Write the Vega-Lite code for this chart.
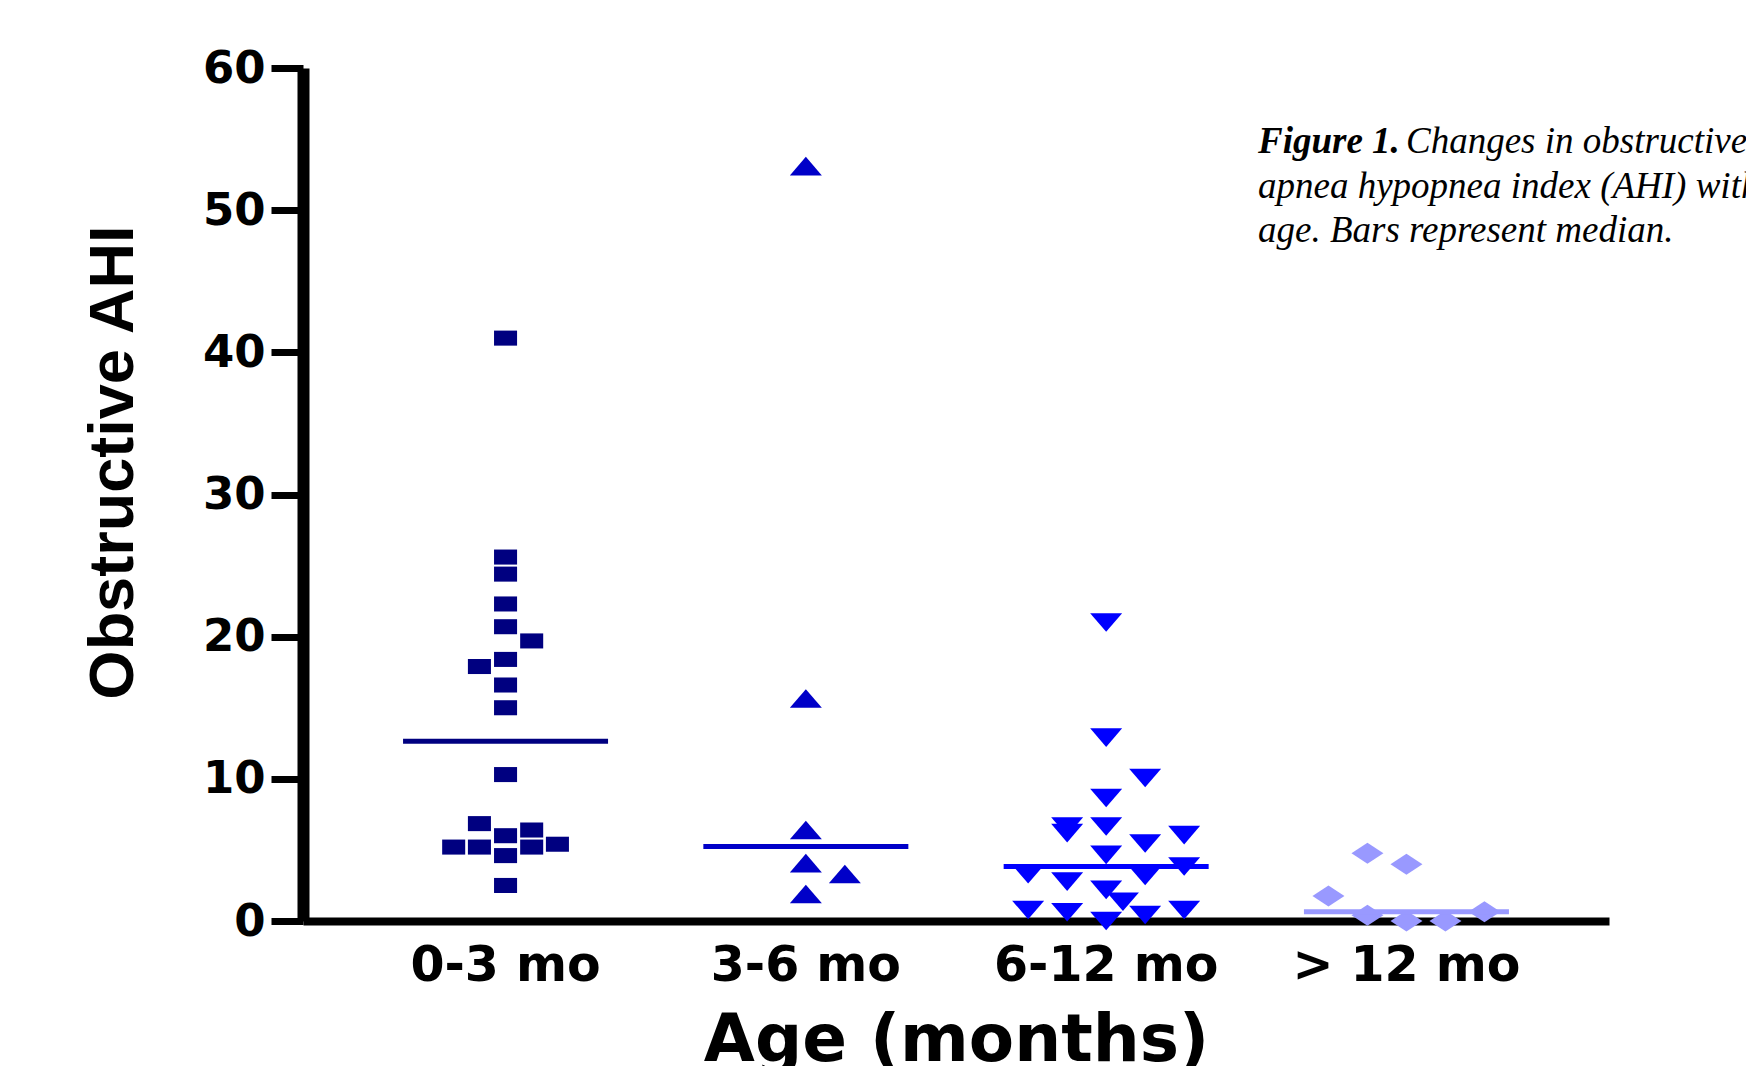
{
  "$schema": "https://vega.github.io/schema/vega-lite/v6.json",
  "width": 1306,
  "height": 853,
  "autosize": {"type": "none"},
  "padding": {"left": 303, "top": 68, "right": 137, "bottom": 145},
  "background": "white",
  "config": {"view": {"stroke": null}},
  "title": {
    "text": "Figure 1.",
    "subtitle": ["\u200d\u00a0\u00a0\u00a0\u00a0\u00a0\u00a0\u00a0\u00a0\u00a0\u00a0\u00a0\u00a0\u00a0\u00a0\u00a0\u00a0Changes in obstructive", "apnea hypopnea index (AHI) with", "age. Bars represent median."],
    "anchor": "start",
    "frame": "group",
    "orient": "top",
    "dx": 955,
    "dy": 208,
    "font": "Liberation Serif",
    "fontSize": 37,
    "fontStyle": "italic",
    "fontWeight": "bold",
    "color": "black",
    "subtitleFont": "Liberation Serif",
    "subtitleFontSize": 37,
    "subtitleFontStyle": "italic",
    "subtitleFontWeight": "normal",
    "subtitleColor": "black",
    "subtitleLineHeight": 44.5,
    "subtitlePadding": -37
  },
  "data": {
    "values": [
      {"group": "0-3 mo", "ahi": 41.0, "dx": 0},
      {"group": "0-3 mo", "ahi": 25.6, "dx": 0},
      {"group": "0-3 mo", "ahi": 24.4, "dx": 0},
      {"group": "0-3 mo", "ahi": 22.3, "dx": 0},
      {"group": "0-3 mo", "ahi": 20.7, "dx": 0},
      {"group": "0-3 mo", "ahi": 19.7, "dx": 0.67},
      {"group": "0-3 mo", "ahi": 18.4, "dx": 0},
      {"group": "0-3 mo", "ahi": 17.9, "dx": -0.67},
      {"group": "0-3 mo", "ahi": 16.6, "dx": 0},
      {"group": "0-3 mo", "ahi": 15.0, "dx": 0},
      {"group": "0-3 mo", "ahi": 10.3, "dx": 0},
      {"group": "0-3 mo", "ahi": 6.85, "dx": -0.67},
      {"group": "0-3 mo", "ahi": 6.4, "dx": 0.67},
      {"group": "0-3 mo", "ahi": 6.0, "dx": 0},
      {"group": "0-3 mo", "ahi": 5.2, "dx": -1.33},
      {"group": "0-3 mo", "ahi": 5.2, "dx": -0.67},
      {"group": "0-3 mo", "ahi": 5.2, "dx": 0.67},
      {"group": "0-3 mo", "ahi": 5.4, "dx": 1.33},
      {"group": "0-3 mo", "ahi": 4.6, "dx": 0},
      {"group": "0-3 mo", "ahi": 2.5, "dx": 0},
      {"group": "3-6 mo", "ahi": 53.1, "dx": 0},
      {"group": "3-6 mo", "ahi": 15.65, "dx": 0},
      {"group": "3-6 mo", "ahi": 6.4, "dx": 0},
      {"group": "3-6 mo", "ahi": 4.07, "dx": 0},
      {"group": "3-6 mo", "ahi": 3.3, "dx": 1},
      {"group": "3-6 mo", "ahi": 1.9, "dx": 0},
      {"group": "6-12 mo", "ahi": 21.0, "dx": 0},
      {"group": "6-12 mo", "ahi": 12.9, "dx": 0},
      {"group": "6-12 mo", "ahi": 10.06, "dx": 1},
      {"group": "6-12 mo", "ahi": 8.65, "dx": 0},
      {"group": "6-12 mo", "ahi": 6.65, "dx": -1},
      {"group": "6-12 mo", "ahi": 6.18, "dx": -1},
      {"group": "6-12 mo", "ahi": 6.65, "dx": 0},
      {"group": "6-12 mo", "ahi": 6.04, "dx": 2},
      {"group": "6-12 mo", "ahi": 5.45, "dx": 1},
      {"group": "6-12 mo", "ahi": 4.65, "dx": 0},
      {"group": "6-12 mo", "ahi": 3.83, "dx": 2},
      {"group": "6-12 mo", "ahi": 3.29, "dx": -2},
      {"group": "6-12 mo", "ahi": 2.77, "dx": -1},
      {"group": "6-12 mo", "ahi": 3.17, "dx": 1},
      {"group": "6-12 mo", "ahi": 2.19, "dx": 0},
      {"group": "6-12 mo", "ahi": 1.36, "dx": 0.43},
      {"group": "6-12 mo", "ahi": 0.78, "dx": -2},
      {"group": "6-12 mo", "ahi": 0.61, "dx": -1},
      {"group": "6-12 mo", "ahi": 0.78, "dx": 2},
      {"group": "6-12 mo", "ahi": 0.42, "dx": 1},
      {"group": "6-12 mo", "ahi": 0.0, "dx": 0},
      {"group": "> 12 mo", "ahi": 4.77, "dx": -1},
      {"group": "> 12 mo", "ahi": 3.99, "dx": 0},
      {"group": "> 12 mo", "ahi": 1.76, "dx": -2},
      {"group": "> 12 mo", "ahi": 0.4, "dx": -1},
      {"group": "> 12 mo", "ahi": 0.0, "dx": 0},
      {"group": "> 12 mo", "ahi": 0.0, "dx": 1},
      {"group": "> 12 mo", "ahi": 0.65, "dx": 2}
    ]
  },
  "layer": [
    {
      "mark": {"type": "point", "filled": true, "opacity": 1, "size": 1024, "strokeWidth": 0, "clip": false},
      "encoding": {
        "x": {
          "field": "group", "type": "nominal",
          "sort": ["0-3 mo", "3-6 mo", "6-12 mo", "> 12 mo"],
          "scale": {"type": "band", "paddingInner": 0.3, "paddingOuter": 0.3245},
          "title": "Age (months)",
          "axis": {
            "labelAngle": 0,
            "labelLimit": 0,
            "domainWidth": 8, "domainColor": "black",
            "ticks": false,
            "labelFont": "DejaVu Sans", "labelFontWeight": "bold", "labelFontSize": 49, "labelColor": "black",
            "labelPadding": 20,
            "titleFont": "DejaVu Sans", "titleFontWeight": "bold", "titleFontSize": 66, "titleColor": "black",
            "titlePadding": 18,
            "titleLimit": 0
          }
        },
        "xOffset": {"field": "dx", "type": "quantitative", "scale": {"domain": [-2.695, 2.695]}},
        "y": {
          "field": "ahi", "type": "quantitative",
          "scale": {"domain": [0, 60], "nice": false},
          "title": "Obstructive AHI",
          "axis": {
            "values": [0, 10, 20, 30, 40, 50, 60],
            "grid": false,
            "domainWidth": 12, "domainColor": "black",
            "tickColor": "black", "tickWidth": 7, "tickSize": 32,
            "labelFont": "DejaVu Sans", "labelFontWeight": "bold", "labelFontSize": 45, "labelColor": "black",
            "labelPadding": 6,
            "titleFont": "Liberation Sans", "titleFontWeight": "bold", "titleFontSize": 63, "titleColor": "black",
            "titleLimit": 0,
            "titleX": -190, "titleY": 394, "titleBaseline": "middle", "titleAngle": -90, "titleAlign": "center"
          }
        },
        "color": {
          "field": "group", "type": "nominal",
          "scale": {"domain": ["0-3 mo", "3-6 mo", "6-12 mo", "> 12 mo"], "range": ["#000080", "#0000C8", "#0000FF", "#9999FF"]},
          "legend": null
        },
        "shape": {
          "field": "group", "type": "nominal",
          "scale": {"domain": ["0-3 mo", "3-6 mo", "6-12 mo", "> 12 mo"], "range": ["M-0.72,-0.47L0.72,-0.47L0.72,0.47L-0.72,0.47Z", "M0,-0.58L1,0.58L-1,0.58Z", "M-1,-0.58L1,-0.58L0,0.58Z", "M0,-0.66L1,0L0,0.66L-1,0Z"]},
          "legend": null
        }
      }
    },
    {
      "mark": {"type": "tick", "size": 205, "thickness": 5, "opacity": 1, "clip": false},
      "encoding": {
        "x": {"field": "group", "type": "nominal", "sort": ["0-3 mo", "3-6 mo", "6-12 mo", "> 12 mo"]},
        "y": {"aggregate": "median", "field": "ahi", "type": "quantitative"},
        "color": {"field": "group", "type": "nominal", "legend": null}
      }
    }
  ]
}
